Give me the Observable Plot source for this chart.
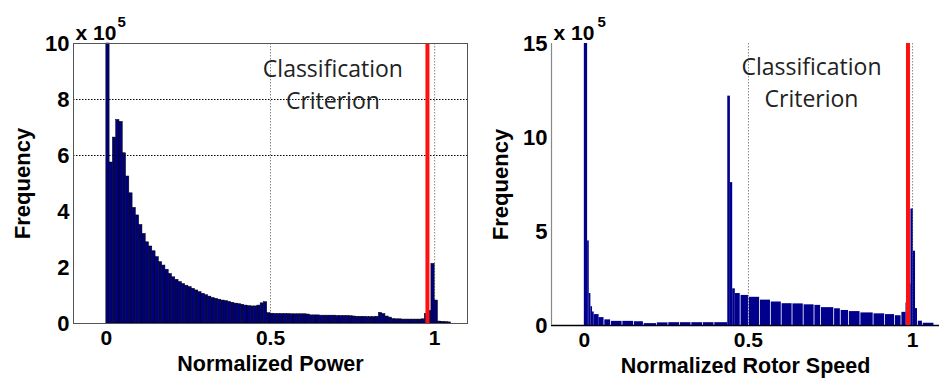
<!DOCTYPE html>
<html><head><meta charset="utf-8">
<script src="https://cdn.jsdelivr.net/npm/d3@7"></script>
<script src="https://cdn.jsdelivr.net/npm/@observablehq/plot@0.6"></script>
<style>
body{margin:0;background:#fff}
#wrap{position:relative;width:939px;height:383px;overflow:hidden;background:#fff}
#left{position:absolute;left:0;top:0}
#right{position:absolute;left:470px;top:0}
</style>
</head><body>
<div id="wrap"><div id="left"></div><div id="right"></div></div>
<script>
// ---------- Left panel: Normalized Power histogram (x 10^5) ----------
const powerBinWidth = 0.01;
const powerFrequency = [
  10, 5.75, 6.64, 7.27, 7.2, 6.08, 5.25, 4.65, 4.13, 3.86,
  3.52, 3.2, 2.9, 2.75, 2.58, 2.37, 2.19, 2.07, 1.92, 1.77,
  1.65, 1.56, 1.48, 1.41, 1.35, 1.3, 1.24, 1.18, 1.12, 1.06,
  1.01, 0.96, 0.91, 0.88, 0.85, 0.82, 0.8, 0.77, 0.74, 0.71,
  0.69, 0.67, 0.64, 0.62, 0.61, 0.61, 0.64, 0.72, 0.76, 0.37,
  0.35, 0.34, 0.34, 0.34, 0.34, 0.34, 0.33, 0.33, 0.33, 0.33,
  0.33, 0.32, 0.29, 0.29, 0.29, 0.28, 0.28, 0.28, 0.28, 0.28,
  0.27, 0.27, 0.27, 0.27, 0.26, 0.25, 0.24, 0.24, 0.24, 0.23,
  0.23, 0.23, 0.24, 0.38, 0.34, 0.25, 0.21, 0.16, 0.15, 0.15,
  0.14, 0.14, 0.14, 0.14, 0.14, 0.14, 0.15, 0.34, 0.45, 2.13,
  0.82, 0.07, 0.06, 0.05, 0.04
];
const powerXTicks = [0, 0.5, 1];
const powerYTicks = [0, 2, 4, 6, 8, 10];
const powerGridY = [6, 8];
const powerGridX = [0.5, 1];
const powerCriterion = [0.978];
const powerNote = [{x: 0.69, y: 8.6, text: "Classification\nCriterion"}];

// ---------- Right panel: Normalized Rotor Speed histogram (x 10^5) ----------
const rotorBinStart = [
  0, 0.01, 0.015, 0.02, 0.025, 0.03, 0.045, 0.06, 0.08, 0.115,
  0.15, 0.18, 0.22, 0.255, 0.29, 0.325, 0.36, 0.395, 0.437, 0.445,
  0.452, 0.46, 0.475, 0.5, 0.534, 0.567, 0.6, 0.633, 0.667, 0.7,
  0.72, 0.76, 0.78, 0.805, 0.84, 0.88, 0.915, 0.945, 0.965, 0.98,
  0.988, 0.995, 1.002, 1.009, 1.015, 1.03
];
const rotorBinEnd = [
  0.01, 0.015, 0.02, 0.025, 0.03, 0.045, 0.06, 0.08, 0.115, 0.15,
  0.18, 0.22, 0.255, 0.29, 0.325, 0.36, 0.395, 0.437, 0.445, 0.452,
  0.46, 0.475, 0.5, 0.534, 0.567, 0.6, 0.633, 0.667, 0.7, 0.72,
  0.76, 0.78, 0.805, 0.84, 0.88, 0.915, 0.945, 0.965, 0.98, 0.988,
  0.995, 1.002, 1.009, 1.015, 1.03, 1.065
];
const rotorFrequency = [
  15, 4.5, 1.7, 1.0, 0.72, 0.58, 0.42, 0.3, 0.22, 0.22,
  0.2, 0.1, 0.14, 0.15, 0.15, 0.15, 0.15, 0.15, 12.2, 7.6,
  1.95, 1.7, 1.6, 1.5, 1.35, 1.25, 1.16, 1.15, 1.1, 1.07,
  0.95, 0.89, 0.8, 0.74, 0.67, 0.62, 0.58, 0.52, 0.7, 1.2,
  2.2, 6.2, 3.95, 0.9, 0.23, 0.12
];
const rotorXTicks = [0, 0.5, 1];
const rotorYTicks = [0, 5, 10, 15];
const rotorGridX = [0.5, 1];
const rotorCriterion = [0.986];
const rotorNote = [{x: 0.692, y: 13.0, text: "Classification\nCriterion"}];

// ---------- tables ----------
const powerBins = powerFrequency.map((v, i) => ({x1: i * powerBinWidth, x2: (i + 1) * powerBinWidth, v}));
const rotorBins = rotorFrequency.map((v, i) => ({x1: rotorBinStart[i], x2: rotorBinEnd[i], v}));

const axisFont = "'Liberation Sans', Arial, sans-serif";
const noteFont = "'Open Sans', 'Noto Sans', sans-serif";
const NAVY = "#00007c";
const RED = "#ff1010";

function commonText(label, xTicks, yTicks, exponentDx) {
  return [
    Plot.axisX({ticks: xTicks, tickFormat: d => String(d), tickSize: 0, tickPadding: 7, fontSize: 21, fontWeight: "bold", label: null, fontFamily: axisFont, fill: "#000"}),
    Plot.axisY({ticks: yTicks, tickFormat: d => String(d), tickSize: 0, tickPadding: 4, fontSize: 22, fontWeight: "bold", label: null, fontFamily: axisFont, fill: "#000"}),
    Plot.text([label], {frameAnchor: "bottom", dy: 47, textAnchor: "middle", fontSize: 21.5, fontWeight: "bold", fontFamily: axisFont, fill: "#000"}),
    Plot.text(["Frequency"], {frameAnchor: "left", dx: -51, textAnchor: "middle", rotate: -90, fontSize: 22, fontWeight: "bold", fontFamily: axisFont, fill: "#000"}),
    Plot.text(["x 10"], {frameAnchor: "top-left", dx: 2, dy: -4, textAnchor: "start", lineAnchor: "bottom", fontSize: 21, fontWeight: "bold", fontFamily: axisFont}),
    Plot.text(["5"], {frameAnchor: "top-left", dx: exponentDx, dy: -17, textAnchor: "start", lineAnchor: "bottom", fontSize: 15, fontWeight: "bold", fontFamily: axisFont})
  ];
}

const left = Plot.plot({
  width: 470, height: 383,
  marginLeft: 73, marginRight: 3, marginTop: 43, marginBottom: 60,
  style: {background: "white", overflow: "visible"},
  x: {domain: [-0.1, 1.1]},
  y: {domain: [0, 10]},
  marks: [
    Plot.ruleY(powerGridY, {stroke: "#000", strokeDasharray: "1.5,1.5", strokeWidth: 1}),
    Plot.ruleX(powerGridX, {stroke: "#888", strokeDasharray: "1.5,1.5", strokeWidth: 1}),
    Plot.rectY(powerBins, {x1: "x1", x2: "x2", y1: 0, y2: "v", fill: NAVY, stroke: "#000", strokeWidth: 0.5}),
    Plot.ruleX(powerCriterion, {stroke: RED, strokeWidth: 4}),
    Plot.frame({stroke: "#555"}),
    Plot.text(powerNote, {x: "x", y: "y", text: "text", fontSize: 23, lineHeight: 1.4, fontFamily: noteFont, fill: "#222"}),
    ...commonText("Normalized Power", powerXTicks, powerYTicks, 44)
  ]
});
document.getElementById("left").append(left);

const right = Plot.plot({
  width: 469, height: 383,
  marginLeft: 81, marginRight: 0, marginTop: 43, marginBottom: 58,
  style: {background: "white", overflow: "visible"},
  x: {domain: [-0.1, 1.082]},
  y: {domain: [0, 15]},
  marks: [
    Plot.ruleX(rotorGridX, {stroke: "#888", strokeDasharray: "1.5,1.5", strokeWidth: 1}),
    Plot.ruleY([0], {stroke: "#000", strokeWidth: 1.5}),
    Plot.rectY(rotorBins, {filter: d => d.x2 - d.x1 > 0.015, x1: "x1", x2: "x2", y1: 0, y2: "v", fill: "#00008c", insetLeft: 0.8}),
    Plot.rectY(rotorBins, {filter: d => d.x2 - d.x1 <= 0.015, x1: "x1", x2: "x2", y1: 0, y2: "v", fill: "#00008c"}),
    Plot.ruleX(rotorCriterion, {stroke: RED, strokeWidth: 4}),
    Plot.ruleX([-0.1], {stroke: "#888", strokeWidth: 1.2}),
    Plot.text(rotorNote, {x: "x", y: "y", text: "text", fontSize: 23, lineHeight: 1.4, fontFamily: noteFont, fill: "#222"}),
    ...commonText("Normalized Rotor Speed", rotorXTicks, rotorYTicks, 46)
  ]
});
document.getElementById("right").append(right);
</script>
</body></html>
